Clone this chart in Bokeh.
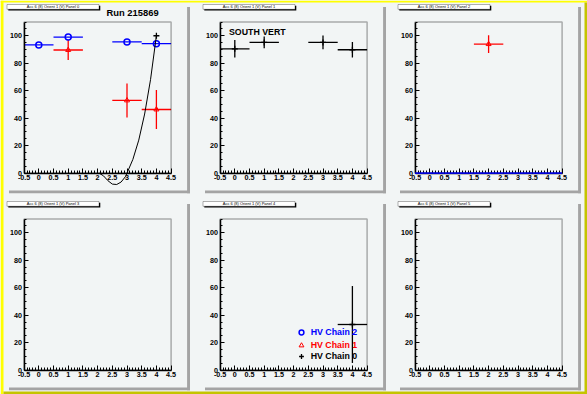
from bokeh.plotting import figure
from bokeh.models import (FixedTicker, BoxAnnotation, Label, Legend, LegendItem,
                          LinearAxis, Range1d)
from bokeh.embed import file_html
from bokeh.resources import INLINE

# ---------------- data ----------------
X_TICKS = [-0.5, 0, 0.5, 1, 1.5, 2, 2.5, 3, 3.5, 4, 4.5]
X_TICK_LABELS = ["-0.5", "0", "0.5", "1", "1.5", "2", "2.5", "3", "3.5", "4", "4.5"]
X_MINOR = [-0.4, -0.3, -0.2, -0.1, 0.1, 0.2, 0.3, 0.4, 0.6, 0.7, 0.8, 0.9,
           1.1, 1.2, 1.3, 1.4, 1.6, 1.7, 1.8, 1.9, 2.1, 2.2, 2.3, 2.4,
           2.6, 2.7, 2.8, 2.9, 3.1, 3.2, 3.3, 3.4, 3.6, 3.7, 3.8, 3.9,
           4.1, 4.2, 4.3, 4.4]
Y_TICKS = [0, 20, 40, 60, 80, 100]
Y_TICK_LABELS = ["0", "20", "40", "60", "80", "100"]
Y_MINOR = [5, 10, 15, 25, 30, 35, 45, 50, 55, 65, 70, 75, 85, 90, 95, 105, 110]
X_RANGE = (-0.5, 4.5)
Y_RANGE = (0, 110)
X_ERR = 0.5

PANEL_TITLES = ["Acc 6 (8) Orient 1 (V) Panel 0", "Acc 6 (8) Orient 1 (V) Panel 1",
                "Acc 6 (8) Orient 1 (V) Panel 2", "Acc 6 (8) Orient 1 (V) Panel 3",
                "Acc 6 (8) Orient 1 (V) Panel 4", "Acc 6 (8) Orient 1 (V) Panel 5"]
RUN_TITLE = "Run 215869"
PANEL1_TEXT = "SOUTH VERT"
LEGEND_LABELS = ["HV Chain 2", "HV Chain 1", "HV Chain 0"]

# Panel 0
p0_chain2_x = [0, 1, 3, 4]
p0_chain2_y = [93.3, 99.0, 95.5, 94.2]
p0_chain1_x = [1, 3, 4]
p0_chain1_y = [89.6, 52.9, 46.3]
p0_chain1_yerr = [7.3, 12.4, 14.2]
p0_chain0_x = [4]
p0_chain0_y = [100.0]
p0_fit_x = [2.05, 2.2, 2.35, 2.5, 2.65, 2.8, 2.95, 3.0, 3.2, 3.4, 3.6, 3.8, 4.0]
p0_fit_y = [0.0, -2.0, -5.5, -8.0, -8.3, -6.5, -2.5, 0.0, 10.0, 24.0, 43.0, 68.0, 100.0]
# Panel 1
p1_chain0_x = [0, 1, 3, 4]
p1_chain0_y = [90.5, 95.1, 95.1, 89.8]
p1_chain0_yerr = [6.4, 4.3, 5.0, 5.7]
# Panel 2
p2_chain1_x = [2]
p2_chain1_y = [93.9]
p2_chain1_yerr = [6.4]
p2_chain2_x = [0, 1, 2, 3, 4]
p2_chain2_y = [0, 0, 0, 0, 0]
# Panel 4
p4_chain0_x = [4]
p4_chain0_y = [33.2]
p4_chain0_yerr = [28.0]
p4_chain2_x = [float("nan")]
p4_chain2_y = [float("nan")]
p4_chain1_x = [float("nan")]
p4_chain1_y = [float("nan")]

# ---------------- layout / styling ----------------
CANVAS = "#f2f5f5"
YEL = "#ffff00"
OLIVE = "#c4c400"
SHADOW = "#a4a4a4"
FONT = "Liberation Sans"
CW, CH = 587, 394
CX = [0, 196, 391]            # cell left edges
CY = [0, 197]                 # cell top edges
BOX_TOP, BOX_BOTTOM = 21.5, 172.6   # plot box rows within a cell (px from top)
BOX_LEFT, BOX_RIGHT = 23.6, 170.6   # plot box columns within a cell
BLUE, RED, BLACK = "#0000ff", "#ff0000", "#000000"

p = figure(width=CW, height=CH, x_range=(0, CW), y_range=(0, CH),
           x_axis_type=None, y_axis_type=None,
           output_backend="svg", toolbar_location=None,
           min_border_left=0, min_border_right=0, min_border_top=0, min_border_bottom=0,
           background_fill_color=CANVAS, border_fill_color=CANVAS,
           outline_line_color=None)


def sbox(x0, y0, x1, y1, color, line=None):
    """rectangle in canvas pixels (y from top)"""
    p.add_layout(BoxAnnotation(left=x0, right=x1, top=CH - y0, bottom=CH - y1,
                               left_units="screen", right_units="screen",
                               top_units="screen", bottom_units="screen",
                               fill_color=color, fill_alpha=1.0 if color else 0,
                               line_color=line, line_width=1.5 if line == "black" and color is None else (1 if line else 0)))


kx = (BOX_RIGHT - BOX_LEFT) / (X_RANGE[1] - X_RANGE[0])
ky = (BOX_BOTTOM - BOX_TOP) / (Y_RANGE[1] - Y_RANGE[0])

for k in range(6):
    r, c = divmod(k, 3)
    x0 = X_RANGE[0] - (CX[c] + BOX_LEFT) / kx
    y0 = Y_RANGE[0] - (CH - (CY[r] + BOX_BOTTOM)) / ky
    p.extra_x_ranges[f"x{k}"] = Range1d(x0, x0 + CW / kx)
    p.extra_y_ranges[f"y{k}"] = Range1d(y0, y0 + CH / ky)

# canvas bevel
sbox(0, 0, CW, 2, YEL)
sbox(0, 0, 3, CH, YEL)
sbox(CW - 3, 2, CW, CH, OLIVE)
sbox(3, CH - 3, CW, CH, OLIVE)

for k in range(6):
    r, c = divmod(k, 3)
    ox, oy = CX[c], CY[r]
    xn, yn = f"x{k}", f"y{k}"
    # pad shadow
    sbox(ox + 186.6, oy + 6.5, ox + 189.5, oy + 192.8, SHADOW)
    sbox(ox + 8.5, oy + 190.0, ox + 189.5, oy + 192.8, SHADOW)
    # plot box
    sbox(ox + BOX_LEFT, oy + BOX_TOP, ox + BOX_RIGHT, oy + BOX_BOTTOM, None, line="black")
    # axes
    xa = LinearAxis(x_range_name=xn, y_range_name=yn, fixed_location=Y_RANGE[0],
                    bounds=X_RANGE, ticker=FixedTicker(ticks=X_TICKS, minor_ticks=X_MINOR),
                    major_label_overrides=dict(zip(X_TICKS, X_TICK_LABELS)))
    ya = LinearAxis(x_range_name=xn, y_range_name=yn, fixed_location=X_RANGE[0],
                    bounds=Y_RANGE, ticker=FixedTicker(ticks=Y_TICKS, minor_ticks=Y_MINOR),
                    major_label_overrides=dict(zip(Y_TICKS, Y_TICK_LABELS)))
    for ax, mj, mn in ((xa, 5, 3), (ya, 4, 2)):
        ax.major_tick_in = mj
        ax.major_tick_out = 0
        ax.minor_tick_in = mn
        ax.minor_tick_out = 0
        ax.major_tick_line_color = "black"
        ax.minor_tick_line_color = "black"
        ax.axis_line_color = "black"
        ax.axis_line_width = 1.5
        ax.major_label_text_font = FONT
        ax.major_label_text_font_style = "bold"
        ax.major_label_text_font_size = "7.2px"
        ax.major_label_text_color = "black"
        ax.major_label_standoff = 2
    p.add_layout(xa, "below")
    p.add_layout(ya, "left")
    # title box
    tx0, ty0, tx1, ty1 = ox + 6.5, oy + 4.0, ox + 98.5, oy + 8.8
    sbox(tx0 + 1.3, ty0 + 1.3, tx1 + 1.3, ty1 + 1.3, "black")
    sbox(tx0, ty0, tx1, ty1, "white", line="black")
    p.add_layout(Label(x=(tx0 + tx1) / 2, y=CH - (ty0 + ty1) / 2, x_units="screen",
                       y_units="screen", text=PANEL_TITLES[k], text_font=FONT,
                       text_font_size="4px", text_align="center",
                       text_baseline="middle", text_color="black"))


def series(k, xs, ys, yerr, color, marker, size, lw=1.3, level="glyph", mlw=1.3):
    rn = dict(x_range_name=f"x{k}", y_range_name=f"y{k}")
    p.segment(x0=[x - X_ERR for x in xs], y0=ys, x1=[x + X_ERR for x in xs], y1=ys,
              line_color=color, line_width=lw, level=level, **rn)
    if yerr is not None:
        p.segment(x0=xs, y0=[y - e for y, e in zip(ys, yerr)], x1=xs,
                  y1=[y + e for y, e in zip(ys, yerr)], line_color=color,
                  line_width=lw, **rn)
    if marker is None:
        return None
    return p.scatter(xs, ys, marker=marker, size=size, line_color=color,
                     fill_color=None, line_width=mlw, **rn)


# Panel 0
series(0, p0_chain1_x, p0_chain1_y, p0_chain1_yerr, RED, "triangle", 5, mlw=1.0)
series(0, p0_chain2_x, p0_chain2_y, None, BLUE, "circle", 6, mlw=1.5)
p.scatter(p0_chain0_x, p0_chain0_y, marker="cross", size=6, line_color=BLACK,
          line_width=1.3, x_range_name="x0", y_range_name="y0")
p.line(p0_fit_x, p0_fit_y, line_color="black", line_width=1,
       x_range_name="x0", y_range_name="y0")
p.add_layout(Label(x=CX[0] + 106, y=CH - (CY[0] + 12.3), x_units="screen", y_units="screen",
                   text=RUN_TITLE, text_font=FONT, text_font_style="bold",
                   text_font_size="9.4px", text_baseline="alphabetic", text_color="black"))

# Panel 1
series(1, p1_chain0_x, p1_chain0_y, p1_chain0_yerr, BLACK, "cross", 6)
p.add_layout(Label(x=CX[1] + 32.5, y=CH - (CY[0] + 31.0), x_units="screen", y_units="screen",
                   text=PANEL1_TEXT, text_font=FONT, text_font_style="bold",
                   text_font_size="8.8px", text_baseline="alphabetic", text_color="black"))

# Panel 2
series(2, p2_chain2_x, p2_chain2_y, None, BLUE, None, 6, lw=1.5, level="overlay")
series(2, p2_chain1_x, p2_chain1_y, p2_chain1_yerr, RED, "triangle", 5, mlw=1.0)

# Panel 4 with legend
r0 = series(4, p4_chain0_x, p4_chain0_y, p4_chain0_yerr, BLACK, "cross", 6)
r2 = p.scatter(p4_chain2_x, p4_chain2_y, marker="circle", size=6, line_color=BLUE,
               fill_color=None, line_width=1.5, x_range_name="x4", y_range_name="y4")
r1 = p.scatter(p4_chain1_x, p4_chain1_y, marker="triangle", size=5, line_color=RED,
               fill_color=None, line_width=1.0, x_range_name="x4", y_range_name="y4")
rows_y = [135.3, 147.7, 159.0]
for lab, rend, col, yc in zip(LEGEND_LABELS, [r2, r1, r0], [BLUE, RED, BLACK], rows_y):
    leg = Legend(items=[LegendItem(label=lab, renderers=[rend])],
                 location=(CX[1] + 104.7 - 6, CH - (CY[1] + yc) - 6),
                 padding=0, margin=0, spacing=0, border_line_alpha=0,
                 background_fill_alpha=0, glyph_width=12, glyph_height=12,
                 label_height=12, label_standoff=4, label_text_font=FONT,
                 label_text_font_style="bold", label_text_font_size="8.8px",
                 label_text_color=col, label_text_baseline="middle")
    p.add_layout(leg)

open("out.html", "w").write(file_html(p, INLINE))
